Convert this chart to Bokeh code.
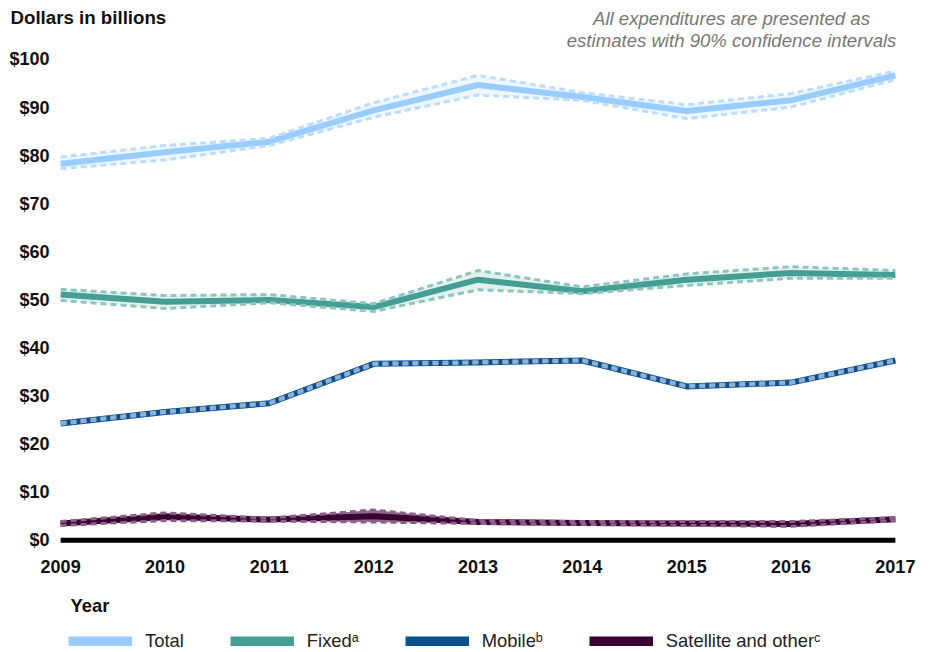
from bokeh.plotting import figure
from bokeh.layouts import column
from bokeh.models import (Range1d, FixedTicker, PrintfTickFormatter, Label, Legend,
                          LegendItem, ColumnDataSource)
from bokeh.embed import file_html
from bokeh.resources import INLINE

# ---- data ----
years = [2009, 2010, 2011, 2012, 2013, 2014, 2015, 2016, 2017]

total    = [78.3, 80.7, 82.9, 89.4, 94.7, 92.2, 89.3, 91.5, 96.7]
total_lo = [77.3, 79.1, 82.1, 88.0, 92.6, 91.5, 87.7, 90.1, 95.8]
total_hi = [79.7, 82.1, 83.6, 91.0, 96.7, 93.1, 90.6, 92.9, 97.6]

fixed    = [51.1, 49.6, 50.0, 48.5, 54.2, 51.8, 54.2, 55.6, 55.2]
fixed_lo = [49.9, 48.2, 49.4, 47.6, 52.1, 51.3, 53.0, 54.5, 54.5]
fixed_hi = [52.2, 50.9, 51.1, 49.2, 56.1, 52.7, 55.4, 56.9, 56.1]

mobile    = [24.3, 26.7, 28.5, 36.7, 37.0, 37.4, 32.0, 32.8, 37.4]
mobile_lo = [24.15, 26.55, 28.35, 36.55, 36.85, 37.25, 31.85, 32.65, 37.25]
mobile_hi = [24.45, 26.85, 28.65, 36.85, 37.15, 37.55, 32.15, 32.95, 37.55]

sat    = [3.5, 4.9, 4.3, 5.0, 3.8, 3.6, 3.5, 3.4, 4.4]
sat_lo = [3.1, 4.1, 4.0, 3.8, 3.5, 3.3, 3.1, 2.9, 4.1]
sat_hi = [3.9, 5.7, 4.6, 6.3, 4.1, 3.9, 3.9, 3.9, 4.7]

y_ticks = [0, 10, 20, 30, 40, 50, 60, 70, 80, 90, 100]
baseline = [0 for _ in years]

note_lines = ["All expenditures are presented as",
              "estimates with 90% confidence intervals"]

series = [
    ("Total", total, total_lo, total_hi, "#99CCFF", "#BBDDFF", "#EEF6FF"),
    ("Fixed\u1d43", fixed, fixed_lo, fixed_hi, "#459E94", "#8CC6BE", "#E4F1EF"),
    ("Mobile\u1d47", mobile, mobile_lo, mobile_hi, "#0B4F8F", "#8FB0CF", "#6C93BA"),
    ("Satellite and other\u1d9c", sat, sat_lo, sat_hi, "#3A0032", "#8C5F86", "#8E6A88"),
]

FONT = "Liberation Sans"
W = 930
NOTE_STYLE = dict(text_font=FONT, text_font_style="italic", text_font_size="18.6px",
                  text_color="#777777", text_baseline="middle", text_align="center")


def bare(fig):
    fig.outline_line_color = None
    fig.xgrid.visible = False
    fig.ygrid.visible = False
    fig.border_fill_color = "white"
    fig.background_fill_color = "white"
    fig.frame_align = False
    return fig


# ---------- top strip: headings ----------
TOP_H = 30
top = bare(figure(width=W, height=TOP_H, output_backend="svg", toolbar_location=None,
                  title=None, x_axis_type=None, y_axis_type=None,
                  x_range=Range1d(0, W), y_range=Range1d(0, TOP_H),
                  min_border=0))
top.add_layout(Label(x=10, y=TOP_H - 17, text="Dollars in billions",
                     text_font=FONT, text_font_style="bold", text_font_size="18.7px",
                     text_color="#111111", text_baseline="middle", text_align="left"))
top.add_layout(Label(x=731, y=TOP_H - 18, text=note_lines[0], **NOTE_STYLE))

# ---------- main chart ----------
p = bare(figure(width=W, height=580 - TOP_H, output_backend="svg", toolbar_location=None,
                title=None,
                x_range=Range1d(2008.97, 2017.03), y_range=Range1d(-1.5, 106.03),
                min_border_left=57, min_border_right=32, min_border_top=0,
                min_border_bottom=33))

for ax in (p.xaxis[0], p.yaxis[0]):
    ax.axis_line_color = None
    ax.major_tick_line_color = None
    ax.minor_tick_line_color = None
    ax.major_tick_out = 0
    ax.major_tick_in = 0
    ax.minor_tick_out = 0
    ax.major_label_text_font = FONT
    ax.major_label_text_font_style = "bold"
    ax.major_label_text_font_size = "18px"
    ax.major_label_text_color = "#111111"

p.xaxis.ticker = FixedTicker(ticks=years)
p.xaxis.formatter = PrintfTickFormatter(format="%d")
p.xaxis.major_label_standoff = 12
p.yaxis.ticker = FixedTicker(ticks=y_ticks)
p.yaxis.formatter = PrintfTickFormatter(format="$%d")
p.yaxis.major_label_standoff = 8

# second line of the note sits just above the plotted area
p.add_layout(Label(x=2015.43, y=103.95, text=note_lines[1], **NOTE_STYLE))

p.line(years, baseline, line_color="black", line_width=5)

for name, mid, lo, hi, col, dcol, fcol in series:
    src = ColumnDataSource(dict(x=years, mid=mid, lo=lo, hi=hi))
    p.varea(x="x", y1="lo", y2="hi", source=src, fill_color=fcol)
    p.line("x", "mid", source=src, line_color=col, line_width=6, line_join="round")
    p.line("x", "lo", source=src, line_color=dcol, line_width=3, line_dash="6 4")
    p.line("x", "hi", source=src, line_color=dcol, line_width=3, line_dash="6 4")

# ---------- bottom strip: "Year" + legend ----------
bot = bare(figure(width=W, height=72, output_backend="svg", toolbar_location=None,
                  title=None, x_axis_type=None, y_axis_type=None,
                  x_range=Range1d(0, W), y_range=Range1d(0, 72),
                  min_border=0))
bot.add_layout(Label(x=70, y=47, text="Year",
                     text_font=FONT, text_font_style="bold", text_font_size="18.4px",
                     text_color="#111111", text_baseline="middle", text_align="left"))

items = []
for name, mid, lo, hi, col, dcol, fcol in series:
    # series drawn in the strip only so the legend has a swatch; they fall outside its range
    r = bot.line(years, mid, line_color=col, line_width=10)
    items.append(LegendItem(label=name, renderers=[r]))

legend = Legend(items=items, orientation="horizontal", location=(68, 0),
                glyph_width=64, glyph_height=10, label_standoff=13, spacing=46,
                padding=2, margin=0, label_height=20,
                label_text_font=FONT, label_text_font_size="18.4px",
                label_text_color="#222222", border_line_color=None,
                background_fill_alpha=0)
bot.add_layout(legend, "center")

layout = column(top, p, bot, spacing=0)
open("out.html", "w").write(file_html(layout, INLINE))
